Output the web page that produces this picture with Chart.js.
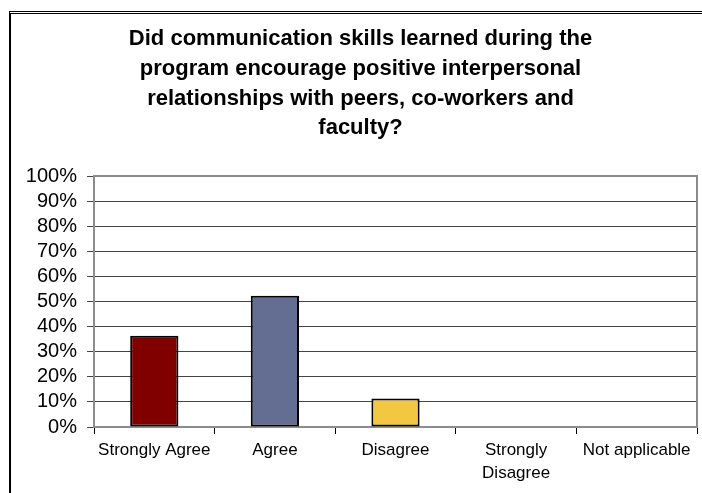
<!DOCTYPE html>
<html>
<head>
<meta charset="utf-8">
<script src="https://cdn.jsdelivr.net/npm/chart.js@4"></script>
<style>
  html, body { margin: 0; padding: 0; background: #fff; }
  #wrap { position: relative; width: 702px; height: 493px; overflow: hidden; }
  #frame { position: absolute; left: 9px; top: 11px; width: 720px; height: 500px;
           border-top: 3px double #000; border-left: 2px solid #000; }
  canvas { position: absolute; left: 0; top: 0; }
</style>
</head>
<body>
<div id="wrap">
  <div id="frame"></div>
  <canvas id="chart" width="702" height="493"></canvas>
</div>
<script>
// survey answers
const categories = ["Strongly Agree", "Agree", "Disagree", ["Strongly", "Disagree"], "Not applicable"];
const percents = [36.4, 52.3, 11.4, 0, 0];
const barColors = ["#800000", "#646e92", "#f4c742", "#cccccc", "#cccccc"];
const yTicks = [0, 10, 20, 30, 40, 50, 60, 70, 80, 90, 100];
const titleLines = [
  "Did communication skills learned during the",
  "program encourage positive interpersonal",
  "relationships with peers, co-workers and",
  "faculty?"
];

const FONT = "'Liberation Sans', Arial, sans-serif";

// gray border round the plot area
const plotBorder = {
  id: "plotBorder",
  afterDraw(chart) {
    const a = chart.chartArea;
    const ctx = chart.ctx;
    ctx.save();
    ctx.strokeStyle = "#8c8c8c";
    ctx.lineWidth = 2;
    ctx.beginPath();
    ctx.moveTo(a.left, a.top);
    ctx.lineTo(a.right, a.top);
    ctx.lineTo(a.right, a.bottom);
    ctx.stroke();
    ctx.restore();
  }
};

new Chart(document.getElementById("chart"), {
  type: "bar",
  data: {
    labels: categories,
    datasets: [{
      data: percents,
      backgroundColor: barColors,
      borderColor: "#000",
      borderWidth: 2,
      borderSkipped: false,
      categoryPercentage: 1,
      barPercentage: 0.4
    }]
  },
  options: {
    responsive: false,
    animation: false,
    layout: { padding: { left: 24, right: 5, top: 0, bottom: 0 } },
    plugins: {
      legend: { display: false },
      tooltip: { enabled: false },
      title: {
        display: true,
        text: titleLines,
        color: "#000",
        font: { family: FONT, size: 22, weight: "bold", lineHeight: 1.355 },
        padding: { top: 24, bottom: 32.8 }
      }
    },
    scales: {
      x: {
        grid: { drawOnChartArea: false, drawTicks: true, tickLength: 7, color: "#000" },
        border: { color: "#8c8c8c", width: 2 },
        ticks: { color: "#000", font: { family: FONT, size: 17, lineHeight: 1.35 }, padding: 5, maxRotation: 0, autoSkip: false },
        afterFit(scale) { scale.height = 66; }
      },
      y: {
        min: 0,
        max: 100,
        afterBuildTicks(scale) { scale.ticks = yTicks.map(v => ({ value: v })); },
        grid: { color: "#444", lineWidth: 1, tickLength: 7, tickColor: "#444" },
        border: { color: "#8c8c8c", width: 2 },
        ticks: { color: "#000", font: { family: FONT, size: 20 }, padding: 10, autoSkip: false, callback: v => v + "%" },
        afterFit(scale) { scale.width = 70; }
      }
    }
  },
  plugins: [plotBorder]
});
</script>
</body>
</html>
